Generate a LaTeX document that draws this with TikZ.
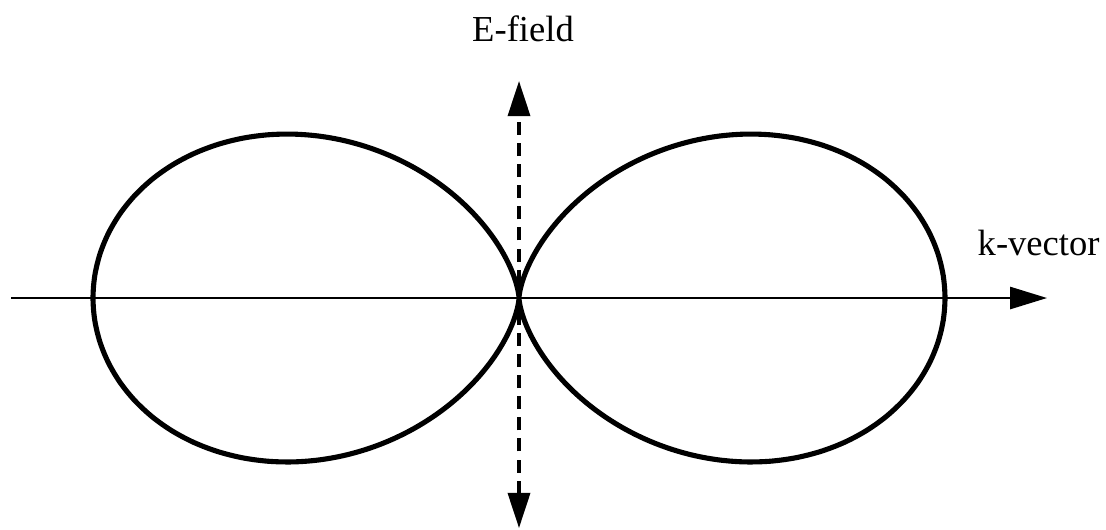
\documentclass[tikz,border=0pt]{standalone}
\usepackage{fontspec}
\setmainfont{Liberation Serif}
\usetikzlibrary{arrows.meta}

\begin{document}
\begin{tikzpicture}[
  x=0.01cm, y=-0.01cm,
  font=\fontsize{10.4}{12}\selectfont,
  axis/.style={-{Triangle[length=10.5pt,width=6.3pt]},line width=0.6pt},
  field/.style={{Triangle[length=10pt,width=6.3pt]}-{Triangle[length=10pt,width=6.3pt]},
    line width=0.9pt,dash pattern=on 3.7pt off 2.3pt},
  lobe/.style={line width=1.45pt,line join=round}
]
  \useasboundingbox (0,0) rectangle (1106,529);

  \coordinate (O) at (519,298);
  \coordinate (kstart) at (11,298);
  \coordinate (ktip) at (1047,298);
  \coordinate (etop) at (519,81);
  \coordinate (ebot) at (519,528);

  % sin^2 pattern, theta measured from the field axis
  \draw[lobe,shift={(O)}] plot[domain=0:360,samples=241,smooth]
    ({426*sin(\x)*sin(\x)*sin(\x)},{426*sin(\x)*sin(\x)*cos(\x)}) -- cycle;

  \draw[axis] (kstart) -- (ktip);
  \draw[field] (ebot) -- (etop);

  \node[anchor=base] (elabel) at (523,41) {E-field};
  \node[anchor=base west,inner sep=0pt] (klabel) at (977,255) {k-vector};
\end{tikzpicture}
\end{document}
